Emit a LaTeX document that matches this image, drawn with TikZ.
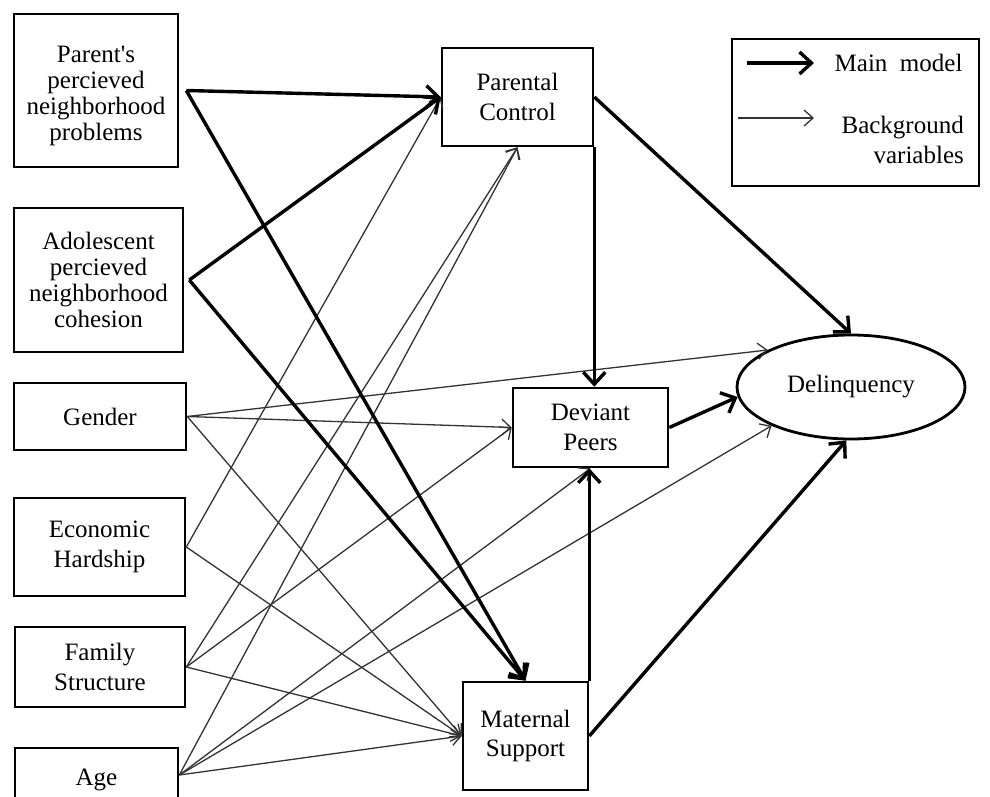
\documentclass[tikz,border=0pt]{standalone}
\usepackage{fontspec}
\setmainfont{Liberation Serif}
\usetikzlibrary{arrows.meta,shapes.geometric}
\begin{document}
\begin{tikzpicture}[x=1pt,y=-1pt,
  lbl/.style={font=\fontsize{25}{26}\selectfont},
  box/.style={lbl, draw, line width=2.6pt, align=center, inner sep=0pt},
  wide/.style={font=\fontsize{25}{29.5}\selectfont},
  main/.style={line width=3.4pt, -{Straight Barb[length=12pt,width=22pt]}},
  bg/.style={line width=1.3pt, draw=black!80, -{Straight Barb[length=9pt,width=16pt]}},
]
\useasboundingbox (0,0) rectangle (990,797);
\clip (0,0) rectangle (990,797);

% exogenous variables (left column)
\node[box, minimum width=164pt, minimum height=153pt,
      label={[lbl, align=center, yshift=-5pt]center:Parent\textquotesingle s\\percieved\\neighborhood\\problems}] (pp) at (96,90.5) {};
\node[box, minimum width=169pt, minimum height=144pt] (ad)  at (98.5,280) {Adolescent\\percieved\\neighborhood\\cohesion};
\node[box, minimum width=172pt, minimum height=67pt]  (g)   at (100,416.5) {Gender};
\node[box, wide, minimum width=171pt, minimum height=98pt]  (eh)  at (99.5,547) {Economic\\Hardship};
\node[box, wide, minimum width=170pt, minimum height=80pt]  (fs)  at (100,667)  {Family\\Structure};
\node[box, minimum width=163pt, minimum height=64pt]  (age) at (96.5,780) {Age};

% mediators and outcome
\node[box, wide, minimum width=151pt, minimum height=98pt]  (pc)  at (517.5,97)  {Parental\\Control};
\node[box, wide, minimum width=155pt, minimum height=79pt]  (dp)  at (590.5,427.5) {Deviant\\Peers};
\node[box, wide, minimum width=125pt, minimum height=108pt] (ms)  at (525.5,736) {Maternal\\Support};
\node[lbl, draw, ellipse, line width=2.8pt, minimum width=228pt, minimum height=104pt, inner sep=0pt] (del) at (851,387) {Delinquency};

% background paths
\draw[bg] (g.east)  -- (del.156);
\draw[bg] (g.east)  -- (dp.west);
\draw[bg] (g.east)  -- (ms.west);
\draw[bg] (eh.east) -- (pc.west);
\draw[bg] (eh.east) -- (ms.west);
\draw[bg] (fs.east) -- (pc.south);
\draw[bg] (fs.east) -- (dp.west);
\draw[bg] (fs.east) -- (ms.west);
\draw[bg] ([yshift=5pt]age.east) -- (pc.south);
\draw[bg] ([yshift=5pt]age.east) -- (dp.south);
\draw[bg] ([yshift=5pt]age.east) -- (del.206);
\draw[bg] ([yshift=5pt]age.east) -- (ms.west);

% main model paths
\draw[main] ([xshift=7pt]pp.east) -- (pc.west);
\draw[main] ([xshift=7pt]pp.east) -- (ms.north);
\draw[main] ([xshift=5pt]ad.east) -- (pc.west);
\draw[main] ([xshift=5pt]ad.east) -- (ms.north);
\draw[main] (pc.east) -- (del.north);
\draw[main] (pc.south east) -- (pc.south east |- dp.north);
\draw[main] (ms.north east) -- (ms.north east |- dp.south);
\draw[main] (ms.east) -- (del.265);
\draw[main] (dp.east) -- (del.185);

% legend
\node[draw, line width=1.8pt, minimum width=247pt, minimum height=147pt] (legend) at (855.5,112.5) {};
\coordinate (lma) at (747,63);
\coordinate (lmb) at (814,63);
\coordinate (lba) at (738,118);
\coordinate (lbb) at (814,118);
\draw[main] (lma) -- (lmb);
\draw[bg] (lba) -- (lbb);
\node[lbl, anchor=east] (lmt) at (966,63) {Main\ \ model};
\node[lbl, font=\fontsize{25}{30}\selectfont, anchor=east, align=right, inner sep=0pt] (lbt) at (964,140) {Background\\variables};
\end{tikzpicture}
\end{document}
